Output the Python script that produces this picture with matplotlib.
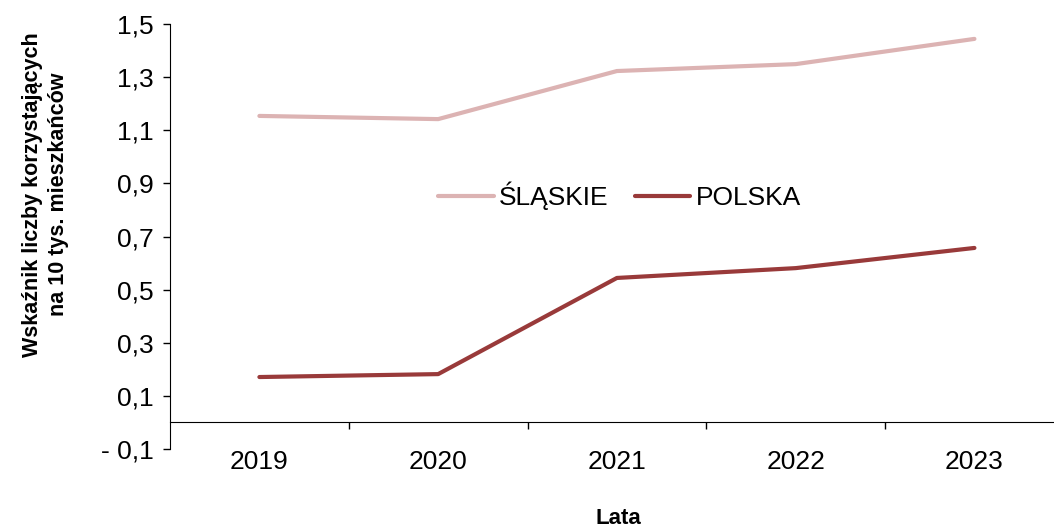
import matplotlib.pyplot as plt
from matplotlib.ticker import FixedLocator, FuncFormatter

plt.rcParams['font.family'] = ['Liberation Sans', 'DejaVu Sans']

# Dane
lata = ['2019', '2020', '2021', '2022', '2023']
slaskie = [1.154, 1.142, 1.323, 1.349, 1.444]
polska = [0.171, 0.182, 0.544, 0.581, 0.657]

fig = plt.figure(figsize=(10.54, 5.29), dpi=100)
ax = fig.add_axes([0.1613, 0.1512, 0.848, 0.8034])

x = range(len(lata))
ax.plot(x, slaskie, color='#dcb3b3', lw=3, label='ŚLĄSKIE', solid_capstyle='round')
ax.plot(x, polska, color='#993a3a', lw=3, label='POLSKA', solid_capstyle='round')

ax.set_xlim(-0.5, len(lata) - 0.5)
ax.set_ylim(-0.1, 1.5)

# Oś Y
yt = [-0.1, 0.1, 0.3, 0.5, 0.7, 0.9, 1.1, 1.3, 1.5]
ax.set_yticks(yt)
def fmt(v, pos):
    s = f'{abs(v):.1f}'.replace('.', ',')
    return '- ' + s if v < 0 else s
ax.yaxis.set_major_formatter(FuncFormatter(fmt))
ax.tick_params(axis='y', direction='out', length=5, width=1, labelsize=19, pad=7)

# Oś X na poziomie zera
ax.spines['top'].set_visible(False)
ax.spines['right'].set_visible(False)
ax.spines['bottom'].set_position(('data', 0))
ax.xaxis.set_major_locator(FixedLocator([i + 0.5 for i in range(len(lata) - 1)]))
ax.xaxis.set_major_formatter(FuncFormatter(lambda v, p: ''))
ax.xaxis.set_minor_locator(FixedLocator(list(x)))
ax.xaxis.set_minor_formatter(FuncFormatter(lambda v, p: lata[int(round(v))]))
ax.tick_params(axis='x', which='major', direction='out', length=5, width=1)
ax.tick_params(axis='x', which='minor', length=0, labelsize=19, pad=20)

fig.text(0.043, 0.632, 'Wskaźnik liczby korzystających\nna 10 tys. mieszkańców',
         rotation=90, ha='center', va='center', fontsize=15.5, fontweight='bold',
         linespacing=1.3)
fig.text(0.587, 0.02, 'Lata', ha='center', va='center', fontsize=16, fontweight='bold')

ax.legend(loc='center', bbox_to_anchor=(0.503, 0.595), ncol=2, frameon=False,
          fontsize=19, handlelength=2.1, handletextpad=0.2, columnspacing=1.0)

fig.savefig('out.png', dpi=100)
